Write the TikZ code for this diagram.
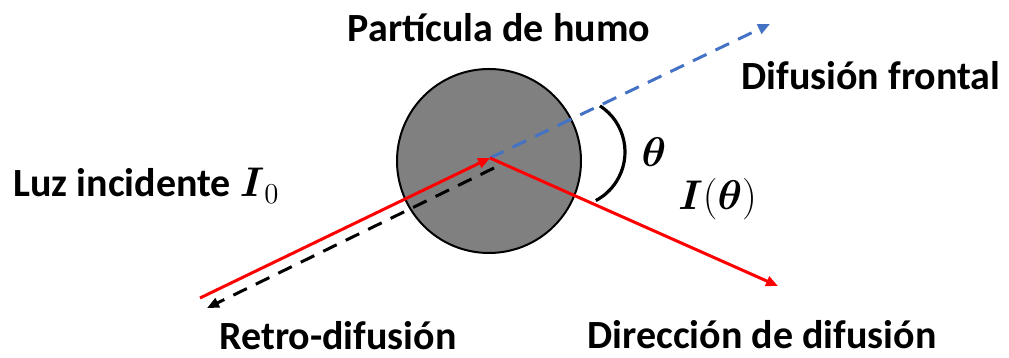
\documentclass[tikz,border=0pt]{standalone}
\usepackage{amsmath,amssymb}
\usepackage{fontspec}
\setmainfont{Carlito}
\usetikzlibrary{arrows.meta}
\definecolor{rayred}{RGB}{255,0,0}
\definecolor{fwdblue}{RGB}{68,114,196}
\definecolor{smokegray}{RGB}{128,128,128}

\begin{document}
\begin{tikzpicture}[x=.5pt,y=.5pt,
  lbl/.style={font=\fontsize{20}{24}\selectfont\bfseries,inner sep=0},
  mlbl/.style={font=\fontsize{20}{24}\selectfont,inner sep=0},
  raytip/.style={-{Triangle[length=6pt,width=5pt]}},
  redray/.style={raytip,rayred,line width=1.5pt},
  dashray/.style={raytip,line width=1.5pt,dash pattern=on 7.5pt off 5pt}]
\useasboundingbox (0,0) rectangle (1009,358);
\node[circle,draw,line width=1pt,fill=smokegray,minimum size=92pt,inner sep=0] (humo) at (489,197) {};
\coordinate (hit) at (490,200);
\coordinate (src) at (200,60);
\coordinate (backstart) at (494,190);
\coordinate (back) at (207,50);
\coordinate (fwd) at (770,334);
\coordinate (scat) at (778,72);
\coordinate (thc) at (570,206);
\draw[dashray,black] (backstart) -- (back);
\draw[redray] (src) -- (hit);
\draw[dashray,fwdblue] (hit) -- (fwd);
\draw[redray] (hit) -- (scat);
\draw[line width=1.6pt] (thc) ++(57:55) arc (57:-62:55);
\node[lbl,anchor=base] (particula) at (499,316) {Partícula de humo};
\node[lbl,anchor=base] (frontal) at (871,268) {Difusión frontal};
\node[lbl,anchor=base west] (incidente) at (13,161) {Luz incidente $\boldsymbol{I}_0$};
\node[mlbl] (theta) at (654,206) {$\boldsymbol{\theta}$};
\node[mlbl,anchor=base west] (itheta) at (678,148) {$\boldsymbol{I}(\boldsymbol{\theta})$};
\node[lbl,anchor=base] (retro) at (338,8) {Retro-difusión};
\node[lbl,anchor=base] (direccion) at (762,9) {Dirección de difusión};
\end{tikzpicture}
\end{document}
